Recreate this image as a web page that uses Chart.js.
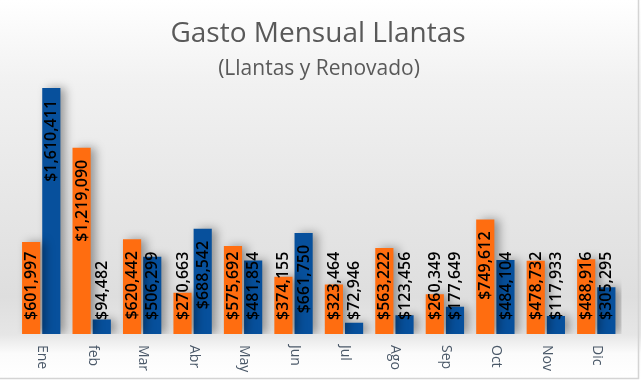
<!DOCTYPE html>
<html><head><meta charset="utf-8">
<script src="https://cdn.jsdelivr.net/npm/chart.js@4"></script>
<style>html,body{margin:0;padding:0;background:#fff}#wrap{width:641px;height:380px;position:relative}</style>
</head><body><div id="wrap"><canvas id="c" width="641" height="380"></canvas></div>
<script>
const titleText = "Gasto Mensual Llantas";
const subtitleText = "(Llantas y Renovado)";
const months = ["Ene","feb","Mar","Abr","May","Jun","Jul","Ago","Sep","Oct","Nov","Dic"];
const llantas = [601997,1219090,620442,270663,575692,374155,323464,563222,260349,749612,478732,488916];
const renovado = [1610411,94482,506299,688542,481854,661750,72946,123456,177649,484104,117933,305295];

function money(v){return "$"+v.toLocaleString("en-US");}

const bgPlugin = {
  id:"bg",
  beforeDraw(chart){
    const ctx=chart.ctx, w=chart.width, h=chart.height;
    const g=ctx.createLinearGradient(0,0,0,h);
    g.addColorStop(0,"#ffffff");
    g.addColorStop(0.22,"#f1f1f1");
    g.addColorStop(0.78,"#dedede");
    g.addColorStop(0.88,"#e6e6e6");
    g.addColorStop(0.93,"#fbfbfb");
    g.addColorStop(1,"#ffffff");
    ctx.save();ctx.fillStyle=g;ctx.fillRect(0,0,w,h);
    ctx.strokeStyle="#d4d4d4";ctx.lineWidth=1.5;
    ctx.beginPath();ctx.moveTo(0,378.5);ctx.lineTo(638.5,378.5);ctx.lineTo(638.5,0);ctx.stroke();
    ctx.fillStyle="#595959";ctx.textAlign="center";ctx.textBaseline="middle";
    ctx.font="28px 'Open Sans'";ctx.fillText(titleText,318,34);
    ctx.font="21px 'Open Sans'";ctx.fillText(subtitleText,319,69);
    ctx.restore();
  },
  beforeDatasetsDraw(chart){
    const ctx=chart.ctx;ctx.save();
    ctx.shadowColor="rgba(0,0,0,0.35)";ctx.shadowBlur=10;ctx.shadowOffsetX=5;ctx.shadowOffsetY=0;
  },
  afterDatasetsDraw(chart){chart.ctx.restore();},
  afterDraw(chart){
    const ctx=chart.ctx, xs=chart.scales.x, ys=chart.scales.y;
    const base=ys.getPixelForValue(0);
    ctx.save();
    ctx.font="600 16px 'Open Sans'";ctx.fillStyle="#000";ctx.textBaseline="middle";ctx.textAlign="left";
    chart.data.datasets.forEach((ds,di)=>{
      chart.getDatasetMeta(di).data.forEach((bar,i)=>{
        const txt=money(ds.data[i]);
        const len=ctx.measureText(txt).width;
        const bottom=Math.min(base-14, bar.y+12+len);
        ctx.save();ctx.translate(bar.x+0.5,bottom);ctx.rotate(-Math.PI/2);
        ctx.fillText(txt,0,0);ctx.restore();
      });
    });
    ctx.font="14px 'Open Sans'";ctx.fillStyle="#4a5868";ctx.textAlign="left";ctx.textBaseline="middle";
    months.forEach((m,i)=>{
      const x=xs.getPixelForValue(i);
      ctx.save();ctx.translate(x+1,345);ctx.rotate(Math.PI/2);ctx.fillText(m,0,0);ctx.restore();
    });
    ctx.restore();
  }
};

new Chart(document.getElementById("c"),{
  type:"bar",
  data:{labels:months,datasets:[
    {label:"Llantas",data:llantas,backgroundColor:"#ff6d10",borderWidth:0},
    {label:"Renovado",data:renovado,backgroundColor:"#07509c",borderWidth:0}
  ]},
  options:{
    responsive:false,animation:false,
    layout:{padding:{top:59,bottom:46,left:16,right:19.5}},
    plugins:{legend:{display:false},tooltip:{enabled:false},title:{display:false}},
    scales:{
      x:{display:false,grid:{display:false},categoryPercentage:0.84,barPercentage:1.0},
      y:{display:false,min:0,max:1800000,grid:{display:false}}
    }
  },
  plugins:[bgPlugin]
});
</script></body></html>
